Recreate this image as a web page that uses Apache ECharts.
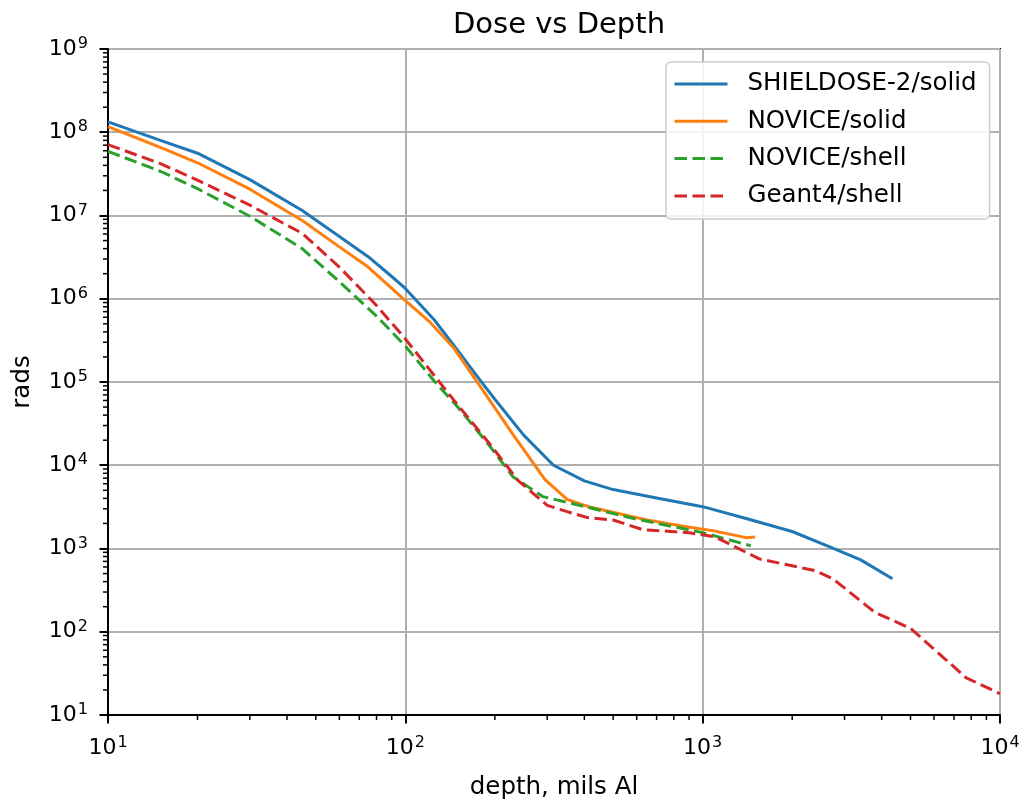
<!DOCTYPE html>
<html>
<head>
<meta charset="utf-8">
<script src="https://cdn.jsdelivr.net/npm/echarts@6/dist/echarts.min.js"></script>
<style>html,body{margin:0;padding:0;background:#fff;}#c{width:1024px;height:805px;}</style>
</head>
<body>
<div id="c"></div>
<script>
const seriesNames = ['SHIELDOSE-2/solid', 'NOVICE/solid', 'NOVICE/shell', 'Geant4/shell'];

const shieldDepth = [10, 15, 20, 30, 45, 60, 75, 90, 100, 125, 150, 175, 200, 250, 315, 400, 500, 700, 1000, 1400, 2000, 2700, 3400, 4350];
const shieldDose  = [1.33e8, 8.0e7, 5.6e7, 2.7e7, 1.15e7, 5.6e6, 3.2e6, 1.85e6, 1.33e6, 5.6e5, 2.4e5, 1.15e5, 6.2e4, 2.3e4, 1.0e4, 6.5e3, 5.1e3, 4.05e3, 3.18e3, 2.29e3, 1.6e3, 1.03e3, 730, 434];

const noviceSolidDepth = [10, 15, 20, 30, 45, 60, 75, 100, 120, 145, 180, 230, 295, 350, 410, 650, 880, 1080, 1400, 1500];
const noviceSolidDose  = [1.17e8, 6.6e7, 4.3e7, 2.07e7, 8.7e6, 4.2e6, 2.4e6, 9.5e5, 5.4e5, 2.6e5, 8.5e4, 2.35e4, 6.7e3, 3.9e3, 3.2e3, 2.2e3, 1.83e3, 1.64e3, 1.35e3, 1.37e3];

const noviceShellDepth = [10, 15, 20, 30, 45, 60, 80, 100, 125, 150, 190, 230, 290, 400, 600, 1000, 1450];
const noviceShellDose  = [5.9e7, 3.4e7, 2.1e7, 9.8e6, 4.0e6, 1.6e6, 6.2e5, 2.7e5, 1.03e5, 5.0e4, 1.8e4, 7.3e3, 4.2e3, 3.2e3, 2.25e3, 1.55e3, 1.08e3];

const geantDepth = [10, 15, 20, 30, 45, 60, 80, 100, 125, 150, 190, 240, 300, 350, 410, 500, 630, 900, 1100, 1550, 2400, 2750, 3800, 5000, 7700, 10000];
const geantDose  = [7.1e7, 4.2e7, 2.66e7, 1.33e7, 6.1e6, 2.4e6, 8.3e5, 3.3e5, 1.2e5, 5.3e4, 1.9e4, 6.5e3, 3.3e3, 2.77e3, 2.35e3, 2.2e3, 1.68e3, 1.55e3, 1.38e3, 750, 540, 430, 170, 110, 28, 18];

const xRange = [10, 10000];
const yRange = [10, 1e9];

const colors = ['#1f77b4', '#ff7f0e', '#2ca02c', '#d62728'];
const FONT = 'DejaVu Sans';

function pairs(xs, ys) { return xs.map((x, i) => [x, ys[i]]); }

// minor tick values (2..9 x 10^k)
const minorX = [];
for (let k = 1; k < 4; k++) for (let m = 2; m <= 9; m++) minorX.push([m * Math.pow(10, k), yRange[0], 0]);
const minorY = [];
for (let k = 1; k < 9; k++) for (let m = 2; m <= 9; m++) minorY.push([xRange[0], m * Math.pow(10, k), 1]);

const supFmt = v => '10{sup|' + Math.round(Math.log10(v)) + '}';
const labelRich = {
  sup: { fontSize: 16, verticalAlign: 'top', padding: [0, 0, 10, 1], fontFamily: FONT, color: '#000' }
};

const chart = echarts.init(document.getElementById('c'), null, { renderer: 'canvas' });

function lineSeries(i, data, dashed) {
  return {
    name: seriesNames[i],
    type: 'line',
    data: data,
    showSymbol: false,
    symbol: 'none',
    smooth: false,
    lineStyle: { color: colors[i], width: 3, type: dashed ? [12.5, 5.5] : 'solid', cap: 'butt', join: 'round' },
    itemStyle: { color: colors[i] },
    z: 3 + i,
    animation: false
  };
}

chart.setOption({
  animation: false,
  backgroundColor: '#fff',
  title: {
    text: 'Dose vs Depth',
    left: 554,
    top: 6,
    textAlign: 'center',
    textStyle: { fontFamily: FONT, fontSize: 29, fontWeight: 'normal', color: '#000' }
  },
  grid: { left: 108, right: 24, top: 49, bottom: 90, show: true, borderColor: '#000', borderWidth: 2, backgroundColor: 'transparent', containLabel: false },
  legend: {
    orient: 'vertical',
    left: 666,
    top: 62,
    data: seriesNames,
    itemWidth: 53,
    itemHeight: 14,
    itemGap: 9.3,
    padding: [8, 13, 9, 7],
    backgroundColor: 'rgba(255,255,255,0.85)',
    borderColor: '#cccccc',
    borderWidth: 1.5,
    borderRadius: 5,
    itemStyle: { opacity: 0 },
    lineStyle: { width: 3 },
    textStyle: { fontFamily: FONT, fontSize: 24.5, lineHeight: 28, color: '#000', padding: [0, 0, 0, 15] }
  },
  xAxis: {
    type: 'log',
    logBase: 10,
    min: xRange[0],
    max: xRange[1],
    interval: 1,
    name: 'depth, mils Al',
    nameLocation: 'middle',
    nameGap: 60,
    nameTextStyle: { fontFamily: FONT, fontSize: 24.5, color: '#000' },
    axisLine: { show: true, lineStyle: { color: '#000', width: 2 } },
    axisTick: { show: true, inside: false, length: 8.5, lineStyle: { color: '#000', width: 2 } },
    axisLabel: { formatter: supFmt, rich: labelRich, fontFamily: FONT, fontSize: 22, color: '#000', margin: 20 },
    splitLine: { show: true, lineStyle: { color: '#b0b0b0', width: 2 } },
    minorTick: { show: false }
  },
  yAxis: {
    type: 'log',
    logBase: 10,
    min: yRange[0],
    max: yRange[1],
    interval: 1,
    name: 'rads',
    nameLocation: 'middle',
    nameRotate: 90,
    nameGap: 73,
    nameTextStyle: { fontFamily: FONT, fontSize: 24.5, color: '#000' },
    axisLine: { show: true, lineStyle: { color: '#000', width: 2 } },
    axisTick: { show: true, inside: false, length: 8.5, lineStyle: { color: '#000', width: 2 } },
    axisLabel: { formatter: supFmt, rich: labelRich, fontFamily: FONT, fontSize: 22, color: '#000', margin: 20 },
    splitLine: { show: true, lineStyle: { color: '#b0b0b0', width: 2 } },
    minorTick: { show: false }
  },
  series: [
    lineSeries(0, pairs(shieldDepth, shieldDose), false),
    lineSeries(1, pairs(noviceSolidDepth, noviceSolidDose), false),
    lineSeries(2, pairs(noviceShellDepth, noviceShellDose), true),
    lineSeries(3, pairs(geantDepth, geantDose), true),
    {
      type: 'custom',
      name: 'minorTicks',
      silent: true,
      clip: false,
      animation: false,
      data: minorX.concat(minorY),
      encode: { x: 0, y: 1 },
      renderItem: function (params, api) {
        const p = api.coord([api.value(0), api.value(1)]);
        const isY = api.value(2) === 1;
        const shape = isY ? { x1: p[0] - 5, y1: p[1], x2: p[0], y2: p[1] }
                          : { x1: p[0], y1: p[1], x2: p[0], y2: p[1] + 5 };
        return { type: 'line', shape: shape, style: { stroke: '#000', lineWidth: 1.5 } };
      },
      z: 10
    }
  ]
});
</script>
</body>
</html>
